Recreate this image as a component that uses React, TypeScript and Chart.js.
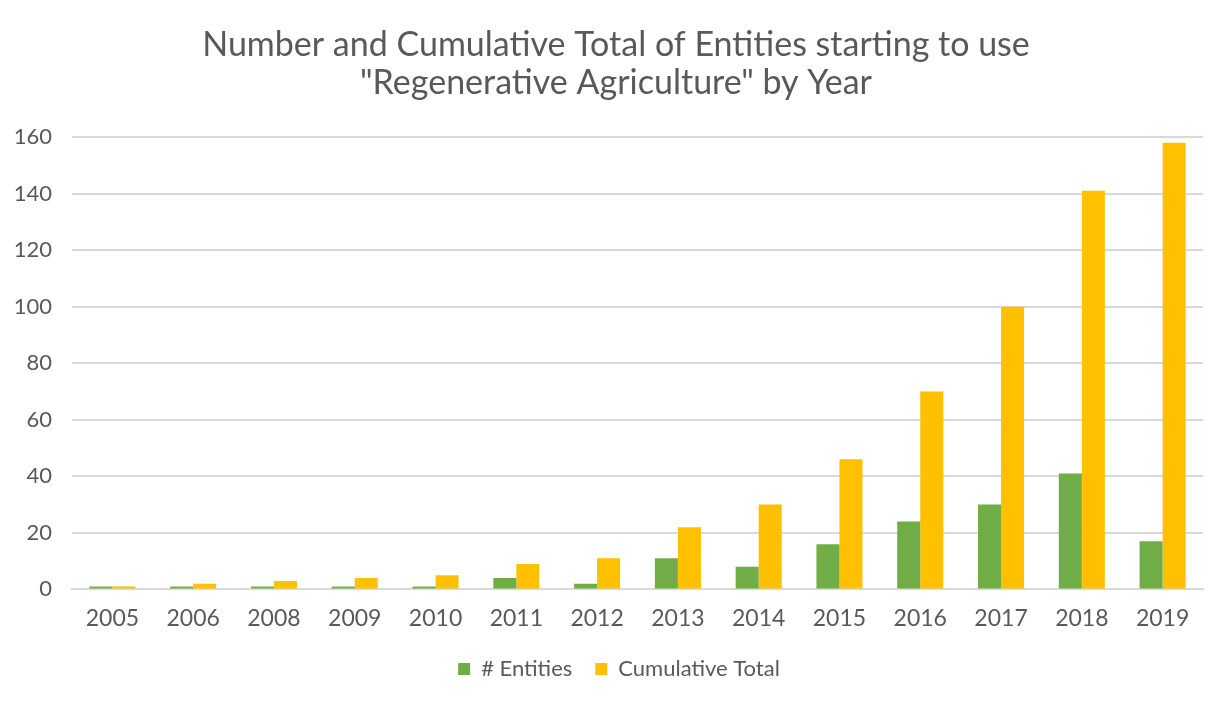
import React, { useEffect, useRef } from "react";
import { Chart, registerables } from "chart.js";

Chart.register(...registerables);

const years = ["2005", "2006", "2008", "2009", "2010", "2011", "2012", "2013", "2014", "2015", "2016", "2017", "2018", "2019"];
const entities = [1, 1, 1, 1, 1, 4, 2, 11, 8, 16, 24, 30, 41, 17];
const cumulative = [1, 2, 3, 4, 5, 9, 11, 22, 30, 46, 70, 100, 141, 158];
const titleLines = ["Number and Cumulative Total of Entities starting to use", "\"Regenerative Agriculture\" by Year"];

const FONT = "Lato, 'Open Sans', sans-serif";
const TEXT = "#595959";
const GRID = "#d9d9d9";

const titlePlugin = {
  id: "centeredTitle",
  afterLayout(chart: any) {
    const l = chart.legend;
    if (l) {
      l.top -= 12;
      l.bottom -= 12;
    }
  },
  afterDraw(chart: any) {
    const c = chart.ctx;
    c.save();
    c.fillStyle = TEXT;
    c.font = `34px ${FONT}`;
    c.textAlign = "center";
    c.textBaseline = "middle";
    const cx = chart.width / 2;
    titleLines.forEach((line, i) => c.fillText(line, cx, 45 + i * 38));
    c.restore();
  },
};

export default function App() {
  const ref = useRef<HTMLCanvasElement | null>(null);
  useEffect(() => {
    document.body.style.margin = "0";
    const ctx = ref.current!;
    const chart = new Chart(ctx, {
      type: "bar",
      data: {
        labels: years,
        datasets: [
          { label: "# Entities", data: entities, backgroundColor: "#70ad47", borderWidth: 0, categoryPercentage: 0.57, barPercentage: 1 },
          { label: "Cumulative Total", data: cumulative, backgroundColor: "#ffc000", borderWidth: 0, categoryPercentage: 0.57, barPercentage: 1 },
        ],
      },
      plugins: [titlePlugin],
      options: {
        animation: false,
        responsive: false,
        maintainAspectRatio: false,
        layout: { padding: { left: 0, right: -6, top: 137, bottom: 6 } },
        plugins: {
          title: { display: false },
          legend: {
            position: "bottom",
            labels: {
              color: TEXT,
              font: { family: FONT, size: 22 },
              boxWidth: 12,
              boxHeight: 12,
              padding: 23,
            },
          },
          tooltip: { enabled: false },
        },
        scales: {
          x: {
            grid: { display: false, drawTicks: false },
            border: { display: true, color: GRID, width: 2 },
            ticks: { color: TEXT, font: { family: FONT, size: 23 }, padding: 15 },
          },
          y: {
            min: 0,
            max: 160,
            grid: { color: GRID, lineWidth: 2, drawTicks: false },
            border: { display: false },
            ticks: { stepSize: 20, color: TEXT, font: { family: FONT, size: 22 }, padding: 20 },
            afterFit(scale: any) {
              scale.width = 72;
            },
          },
          y2: {
            type: "linear",
            position: "right",
            grid: { display: false, drawTicks: false },
            border: { display: false },
            ticks: { display: false },
            afterFit(scale: any) {
              scale.width = 35;
            },
          },
        },
      },
    });
    return () => chart.destroy();
  }, []);
  return (
    <div style={{ width: 1232, height: 708 }}>
      <canvas ref={ref} width={1232} height={708} style={{ display: "block" }} />
    </div>
  );
}
